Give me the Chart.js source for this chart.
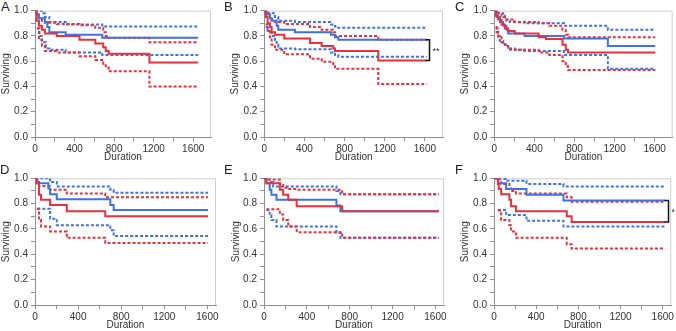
<!DOCTYPE html>
<html>
<head>
<meta charset="utf-8">
<script src="https://cdn.jsdelivr.net/npm/chart.js@4.4.1/dist/chart.umd.min.js"></script>
<style>
  html, body { margin: 0; padding: 0; background: #fff; }
  #wrap { position: relative; width: 676px; height: 331px; overflow: hidden; }
  #wrap canvas { position: absolute; }
  .tag { position: absolute; font: 13px "Liberation Sans", Arial, sans-serif; line-height: 13px; color: #222; }
</style>
</head>
<body>
<div id="wrap"></div>
<script>
// tick labels
const xTicks = [0, 400, 800, 1200, 1600];
const yTicks = [0, 0.2, 0.4, 0.6, 0.8, 1.0];

// Kaplan-Meier steps as [duration, surviving]
// A
const aBlue   = [[0,1],[17,0.97],[40,0.94],[100,0.91],[125,0.87],[145,0.83],[310,0.81],[680,0.785],[1650,0.785]];
const aBlueUp = [[0,1],[70,0.98],[100,0.95],[145,0.91],[310,0.89],[680,0.875],[1650,0.875]];
const aBlueLo = [[20,0.86],[45,0.80],[70,0.75],[110,0.70],[145,0.69],[310,0.67],[680,0.65],[1650,0.65]];
const aRed    = [[0,1],[17,0.92],[40,0.88],[70,0.85],[100,0.82],[220,0.80],[450,0.77],[610,0.74],[690,0.71],[715,0.68],[745,0.66],[1157,0.59],[1650,0.59]];
const aRedUp  = [[0,1],[17,0.97],[40,0.94],[70,0.92],[100,0.905],[220,0.895],[450,0.885],[610,0.865],[690,0.83],[715,0.80],[745,0.785],[1157,0.75],[1650,0.75]];
const aRedLo  = [[17,0.86],[40,0.77],[70,0.72],[100,0.68],[220,0.67],[450,0.64],[610,0.61],[690,0.58],[715,0.55],[745,0.52],[1157,0.40],[1650,0.40]];
// B
const bBlue   = [[0,1],[23,0.97],[56,0.94],[73,0.92],[123,0.88],[139,0.85],[305,0.83],[664,0.81],[704,0.79],[737,0.77],[1617,0.77]];
const bBlueUp = [[0,1],[40,0.98],[106,0.95],[139,0.92],[305,0.91],[664,0.89],[704,0.875],[737,0.865],[1617,0.865]];
const bBlueLo = [[13,0.87],[33,0.84],[73,0.80],[106,0.77],[123,0.73],[139,0.70],[305,0.695],[664,0.67],[704,0.65],[737,0.635],[1617,0.635]];
const bRed    = [[0,1],[13,0.95],[33,0.90],[56,0.87],[73,0.83],[106,0.81],[199,0.78],[455,0.745],[571,0.72],[687,0.70],[704,0.68],[1135,0.605],[1617,0.605]];
const bRedUp  = [[0,1],[13,0.98],[56,0.95],[73,0.93],[106,0.91],[199,0.895],[455,0.87],[571,0.85],[687,0.83],[704,0.80],[1135,0.77],[1617,0.77]];
const bRedLo  = [[13,0.89],[33,0.84],[56,0.78],[73,0.73],[106,0.69],[199,0.655],[455,0.62],[571,0.595],[687,0.57],[704,0.54],[1135,0.42],[1617,0.42]];
// C
const cBlue   = [[0,1],[23,0.95],[56,0.91],[89,0.88],[122,0.85],[138,0.82],[302,0.80],[696,0.78],[1133,0.72],[1606,0.72]];
const cBlueUp = [[0,1],[39,0.98],[89,0.95],[122,0.92],[154,0.91],[302,0.90],[696,0.88],[1133,0.85],[1606,0.85]];
const cBlueLo = [[13,0.86],[39,0.80],[56,0.76],[89,0.73],[138,0.69],[302,0.68],[696,0.65],[1133,0.54],[1606,0.54]];
const cRed    = [[0,1],[13,0.96],[39,0.93],[72,0.89],[105,0.86],[138,0.84],[204,0.82],[443,0.79],[516,0.775],[680,0.73],[713,0.69],[736,0.67],[1606,0.67]];
const cRedUp  = [[0,1],[39,0.98],[72,0.96],[105,0.93],[204,0.91],[443,0.90],[549,0.88],[680,0.85],[713,0.81],[736,0.79],[1606,0.79]];
const cRedLo  = [[13,0.87],[23,0.83],[39,0.79],[72,0.75],[105,0.72],[138,0.70],[204,0.69],[443,0.67],[549,0.65],[680,0.60],[713,0.56],[736,0.53],[1606,0.53]];
// D
const dBlue   = [[0,1],[22,0.96],[124,0.92],[140,0.875],[202,0.835],[699,0.79],[730,0.75],[1606,0.75]];
const dBlueUp = [[0,1],[124,0.99],[140,0.97],[202,0.935],[699,0.91],[730,0.885],[1606,0.885]];
const dBlueLo = [[22,0.76],[140,0.68],[202,0.63],[699,0.59],[730,0.545],[1606,0.545]];
const dRed    = [[0,1],[16,0.96],[37,0.87],[56,0.83],[140,0.79],[295,0.74],[652,0.70],[1606,0.70]];
const dRedUp  = [[0,1],[16,0.97],[37,0.94],[140,0.91],[295,0.88],[652,0.85],[1606,0.85]];
const dRedLo  = [[16,0.76],[37,0.67],[56,0.62],[140,0.58],[295,0.53],[652,0.49],[1606,0.49]];
// E
const eBlue   = [[0,1],[22,0.96],[53,0.91],[69,0.87],[116,0.83],[676,0.785],[713,0.74],[1631,0.74]];
const eBlueUp = [[0,1],[53,0.97],[85,0.935],[676,0.90],[713,0.875],[1631,0.875]];
const eBlueLo = [[22,0.75],[53,0.71],[69,0.67],[116,0.62],[676,0.57],[713,0.53],[1631,0.53]];
const eRed    = [[0,1],[22,0.96],[148,0.91],[179,0.87],[226,0.83],[305,0.78],[729,0.74],[1631,0.74]];
const eRedUp  = [[0,1],[22,0.99],[148,0.95],[179,0.925],[226,0.915],[305,0.91],[729,0.875],[1631,0.875]];
const eRedLo  = [[22,0.755],[148,0.715],[179,0.67],[226,0.62],[305,0.575],[729,0.53],[1631,0.53]];
// F
const fBlue   = [[0,1],[37,0.96],[115,0.915],[308,0.87],[659,0.825],[1622,0.825]];
const fBlueUp = [[0,1],[37,0.995],[115,0.98],[308,0.955],[659,0.935],[1622,0.935]];
const fBlueLo = [[37,0.75],[115,0.71],[308,0.665],[659,0.62],[1622,0.62]];
const fRed    = [[0,1],[37,0.955],[45,0.915],[68,0.875],[146,0.83],[162,0.78],[208,0.74],[690,0.70],[736,0.655],[1622,0.655]];
const fRedUp  = [[0,1],[37,0.99],[68,0.955],[146,0.92],[162,0.90],[208,0.88],[690,0.85],[736,0.815],[1622,0.815]];
const fRedLo  = [[37,0.745],[68,0.67],[146,0.63],[162,0.58],[208,0.53],[690,0.48],[736,0.445],[1622,0.445]];

const BLUE = '#3f72e4';
const RED = '#e8303f';
const FONT = '"Liberation Sans", Arial, sans-serif';

// layout of each panel: canvas box [left, top, w, h], plot area [left, top, right, bottom]
const panels = [
  { tag: 'A', tagPos: [1, 0],    box: [0, 0, 226, 165],     area: [35, 10.7, 211, 137],    xMax: 1780, titlePad: 0, blue: [aBlue, aBlueUp, aBlueLo], red: [aRed, aRedUp, aRedLo] },
  { tag: 'B', tagPos: [224, 0],  box: [224, 0, 232, 165],   area: [264.3, 10.7, 443, 137], xMax: 1780, titlePad: 5, blue: [bBlue, bBlueUp, bBlueLo], red: [bRed, bRedUp, bRedLo], sig: '**', sigX: 1645 },
  { tag: 'C', tagPos: [455, 0],  box: [454, 0, 222, 165],   area: [494.3, 10.7, 672.7, 137], xMax: 1780, titlePad: 5, blue: [cBlue, cBlueUp, cBlueLo], red: [cRed, cRedUp, cRedLo] },
  { tag: 'D', tagPos: [0, 163],  box: [0, 165, 226, 166],   area: [35, 178.3, 216, 305],   xMax: 1680, titlePad: 0, blue: [dBlue, dBlueUp, dBlueLo], red: [dRed, dRedUp, dRedLo] },
  { tag: 'E', tagPos: [224, 163], box: [224, 165, 232, 166], area: [264, 178.3, 444, 305],  xMax: 1680, titlePad: 6, blue: [eBlue, eBlueUp, eBlueLo], red: [eRed, eRedUp, eRedLo] },
  { tag: 'F', tagPos: [455, 163], box: [454, 165, 222, 166], area: [494, 178.3, 672.7, 305], xMax: 1680, titlePad: 5, blue: [fBlue, fBlueUp, fBlueLo], red: [fRed, fRedUp, fRedLo], sig: '*', sigX: 1650 }
];

const xMinor = [];
for (let v = 0; v <= 1600; v += 200) xMinor.push(v);
const yMinor = [];
for (let i = 0; i <= 10; i++) yMinor.push(i / 10);

// light frame on top/right plus the significance bracket
const framePlugin = {
  id: 'frame',
  beforeDatasetsDraw(chart) {
    const { ctx, chartArea: a } = chart;
    ctx.save();
    ctx.strokeStyle = '#cfcfcf';
    ctx.lineWidth = 1;
    ctx.beginPath();
    ctx.moveTo(a.left, a.top + 0.5);
    ctx.lineTo(a.right - 0.5, a.top + 0.5);
    ctx.lineTo(a.right - 0.5, a.bottom);
    ctx.stroke();
    ctx.restore();
  },
  afterDraw(chart, args, opts) {
    if (!opts.sig) return;
    const { ctx, scales: { x, y } } = chart;
    const bx = Math.round(x.getPixelForValue(opts.sigX)) + 0.5;
    const y1 = y.getPixelForValue(opts.top);
    const y2 = y.getPixelForValue(opts.bottom);
    ctx.save();
    ctx.strokeStyle = '#111';
    ctx.lineWidth = 1.5;
    ctx.beginPath();
    ctx.moveTo(bx - 4, y1);
    ctx.lineTo(bx, y1);
    ctx.lineTo(bx, y2);
    ctx.lineTo(bx - 4, y2);
    ctx.stroke();
    ctx.fillStyle = '#333';
    ctx.font = '9px ' + FONT;
    ctx.textBaseline = 'middle';
    ctx.fillText(opts.sig, bx + 3, (y1 + y2) / 2 + 1);
    ctx.restore();
  }
};

function line(points, color, dashed) {
  return {
    data: points.map(p => ({ x: p[0], y: p[1] })),
    borderColor: color,
    borderWidth: 2,
    borderDash: dashed ? [3, 2] : [],
    stepped: 'before',
    pointRadius: 0,
    fill: false
  };
}

const wrap = document.getElementById('wrap');

panels.forEach(p => {
  const [bl, bt, bw, bh] = p.box;
  const [al, at, ar, ab] = p.area;

  const tag = document.createElement('div');
  tag.className = 'tag';
  tag.textContent = p.tag;
  tag.style.left = p.tagPos[0] + 'px';
  tag.style.top = p.tagPos[1] + 'px';
  wrap.appendChild(tag);

  const cv = document.createElement('canvas');
  cv.width = bw;
  cv.height = bh;
  cv.style.left = bl + 'px';
  cv.style.top = bt + 'px';
  wrap.appendChild(cv);

  const xAxisH = bt + bh - ab;
  const yAxisW = al - bl;
  const tickFont = { family: FONT, size: 10 };

  const datasets = [
    line(p.red[0], RED, false),
    line(p.blue[0], BLUE, false),
    line(p.red[1], RED, true),
    line(p.red[2], RED, true),
    line(p.blue[1], BLUE, true),
    line(p.blue[2], BLUE, true)
  ];

  new Chart(cv, {
    type: 'line',
    data: { datasets },
    plugins: [framePlugin],
    options: {
      responsive: false,
      animation: false,
      devicePixelRatio: 1,
      layout: { padding: { left: 0, top: at - bt, right: bl + bw - ar, bottom: 0 } },
      plugins: {
        legend: { display: false },
        tooltip: { enabled: false },
        frame: {
          sig: p.sig,
          sigX: p.sigX,
          top: p.blue[0][p.blue[0].length - 1][1],
          bottom: p.red[0][p.red[0].length - 1][1]
        }
      },
      scales: {
        x: {
          type: 'linear',
          min: 0,
          max: p.xMax,
          afterBuildTicks: s => { s.ticks = xMinor.map(v => ({ value: v })); },
          afterFit: s => { s.height = xAxisH; },
          grid: { drawOnChartArea: false, drawTicks: true, tickLength: 4, color: '#909090' },
          border: { color: '#909090', width: 1 },
          ticks: {
            autoSkip: false,
            maxRotation: 0,
            padding: 2,
            color: '#333',
            font: tickFont,
            callback: v => xTicks.includes(v) ? String(v) : ''
          },
          title: { display: true, text: 'Duration', color: '#333', font: tickFont, padding: { top: 0, bottom: Math.max(0, xAxisH - 26) } }
        },
        y: {
          type: 'linear',
          min: 0,
          max: 1,
          afterBuildTicks: s => { s.ticks = yMinor.map(v => ({ value: v })); },
          afterFit: s => { s.width = yAxisW; },
          grid: { drawOnChartArea: false, drawTicks: true, tickLength: 4, color: '#909090' },
          border: { color: '#909090', width: 1 },
          ticks: {
            autoSkip: false,
            padding: 3,
            color: '#333',
            font: tickFont,
            callback: v => yTicks.some(t => Math.abs(t - v) < 1e-6) ? v.toFixed(1) : ''
          },
          title: { display: true, text: 'Surviving', color: '#333', font: tickFont, padding: { top: p.titlePad, bottom: 0 } }
        }
      }
    }
  });
});
</script>
</body>
</html>
